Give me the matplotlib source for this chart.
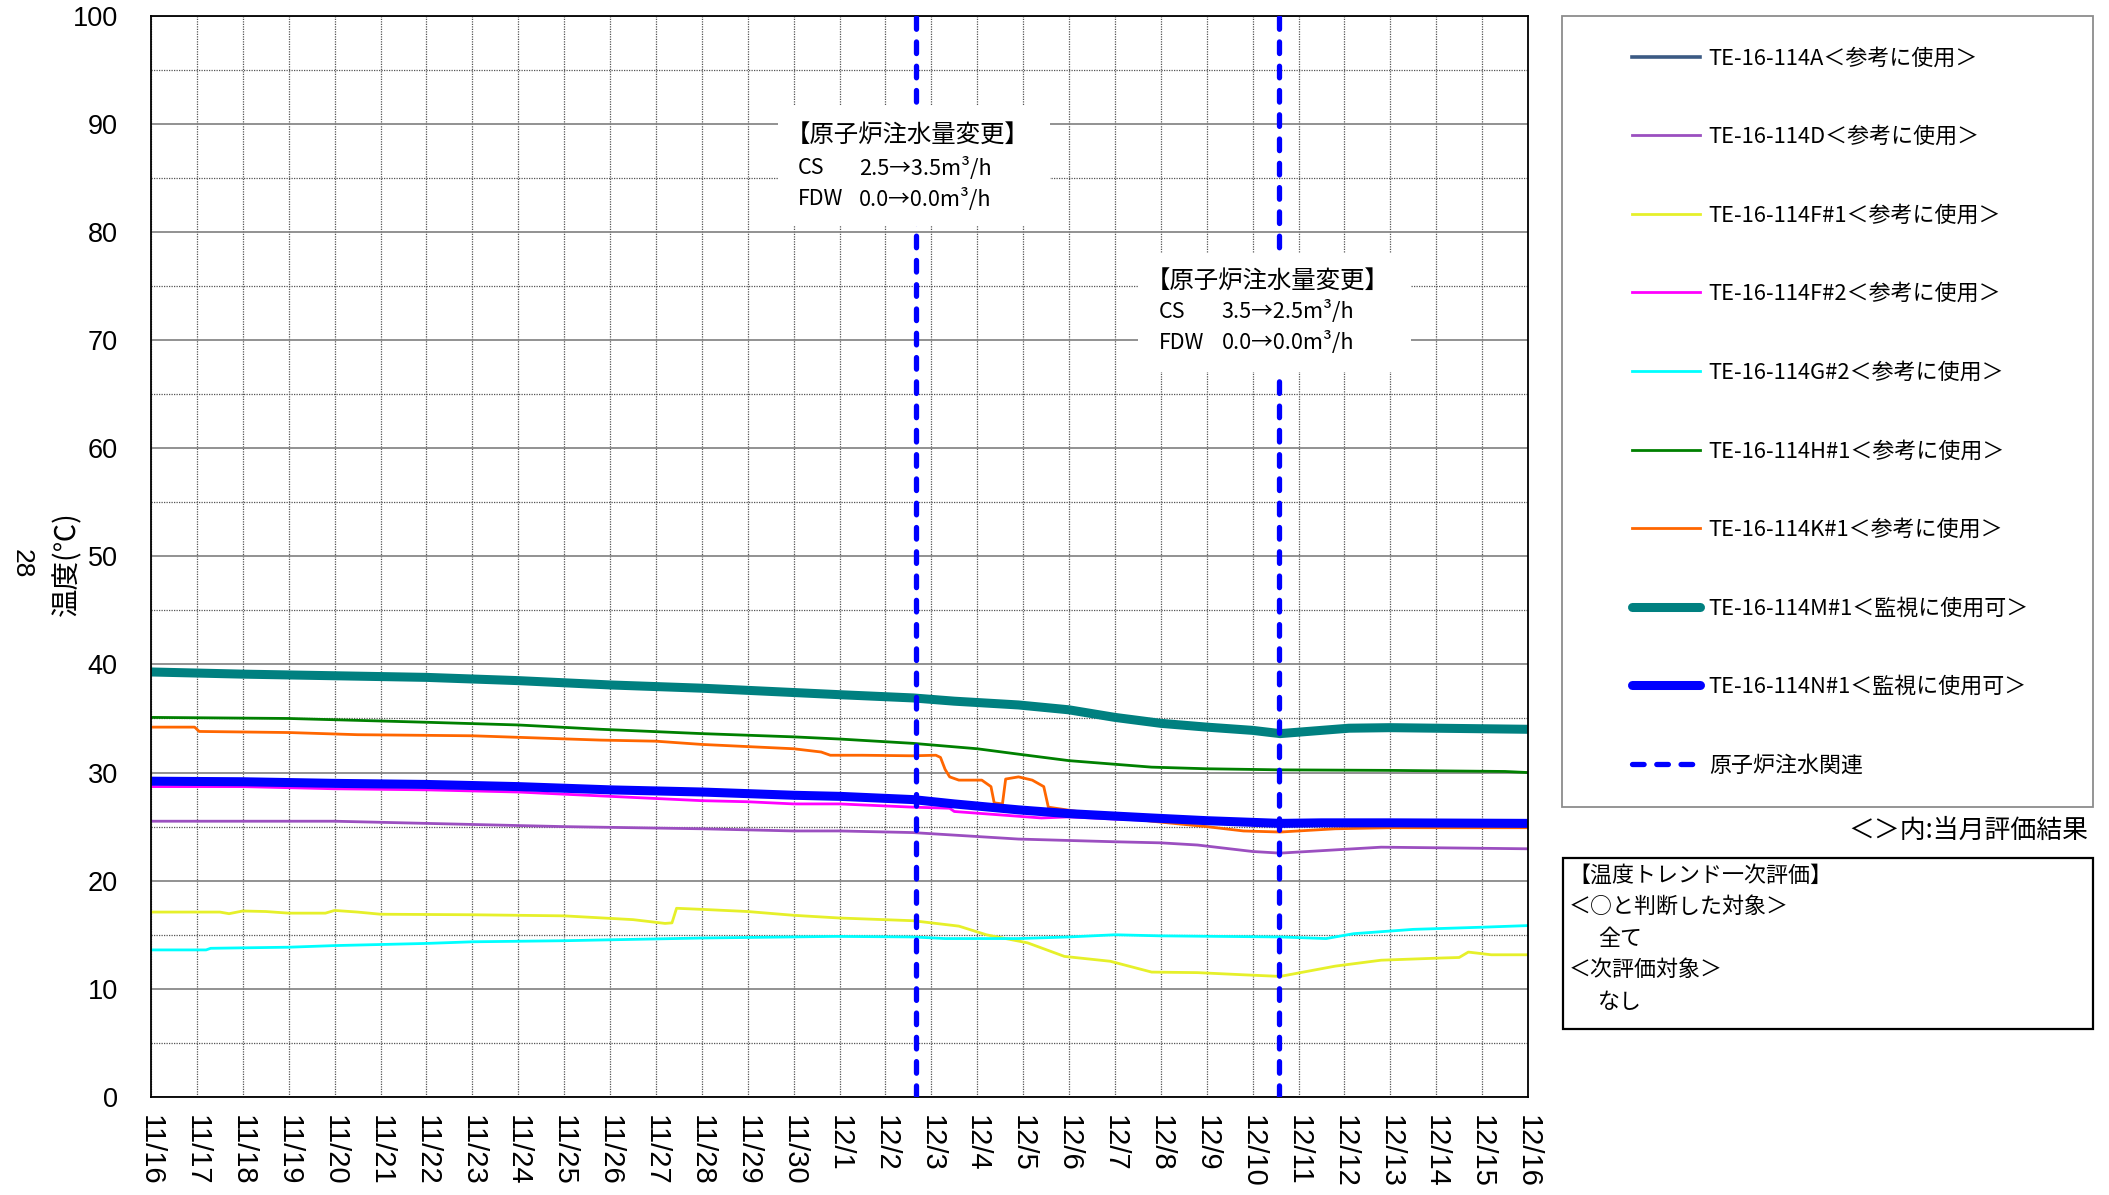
import matplotlib
matplotlib.use("Agg")
import matplotlib.pyplot as plt
from matplotlib.patches import Rectangle

plt.rcParams['font.family'] = ['Noto Sans CJK JP', 'DejaVu Sans']

# ---------------- data ----------------
date_labels = ["11/16", "11/17", "11/18", "11/19", "11/20", "11/21", "11/22", "11/23",
               "11/24", "11/25", "11/26", "11/27", "11/28", "11/29", "11/30", "12/1",
               "12/2", "12/3", "12/4", "12/5", "12/6", "12/7", "12/8", "12/9", "12/10",
               "12/11", "12/12", "12/13", "12/14", "12/15", "12/16"]

# days elapsed since 11/16 0:00
a_day = []
a_val = []

d_day = [0, 4, 6, 9, 12, 14, 15, 16.6, 18.9, 21, 22, 22.8, 24, 24.6, 25.8, 26.8, 30]
d_val = [25.5, 25.5, 25.3, 25.0, 24.8, 24.6, 24.6, 24.45, 23.85, 23.6, 23.5, 23.3, 22.7, 22.55, 22.85, 23.1, 22.95]

f1_day = [0, 1.5, 1.7, 2.0, 2.5, 3.0, 3.8, 4.0, 4.5, 5, 7, 9, 10.5, 11.2, 11.35, 11.45, 12, 13, 14, 15,
          16.6, 17.6, 18.2, 19.1, 19.9, 20.9, 21.8, 22.8, 23.8, 24.6, 25.8, 26.8, 28.1, 28.5, 28.7, 29.2, 30]
f1_val = [17.1, 17.1, 16.95, 17.2, 17.15, 17.0, 17.0, 17.25, 17.1, 16.9, 16.85, 16.75, 16.4, 16.05, 16.1, 17.45, 17.35, 17.15, 16.8, 16.55,
          16.3, 15.8, 15.0, 14.25, 13.0, 12.55, 11.55, 11.5, 11.3, 11.15, 12.1, 12.65, 12.85, 12.9, 13.4, 13.15, 13.15]

f2_day = [0, 2, 4, 6, 8, 9.5, 11, 12, 13, 14, 15, 16.6, 17.4, 17.5, 19.4, 20, 21, 24.6, 30]
f2_val = [28.7, 28.7, 28.5, 28.4, 28.2, 27.9, 27.6, 27.4, 27.3, 27.1, 27.1, 26.8, 26.7, 26.4, 25.8, 25.9, 25.7, 25.15, 25.15]

g2_day = [0, 1.2, 1.3, 3, 4, 6, 7, 9, 12, 14.9, 16.6, 17.3, 18.9, 20, 21, 22, 24.6, 25.6, 26.2, 27.5, 29, 30]
g2_val = [13.6, 13.6, 13.75, 13.85, 14.0, 14.2, 14.35, 14.45, 14.7, 14.85, 14.8, 14.65, 14.65, 14.8, 15.0, 14.9, 14.8, 14.65, 15.1, 15.5, 15.7, 15.85]

h1_day = [0, 3, 6, 8, 9.8, 12, 14, 15, 16.6, 18, 18.9, 20, 21.8, 23, 24.6, 27, 29.5, 30]
h1_val = [35.1, 35.0, 34.65, 34.4, 34.0, 33.6, 33.3, 33.1, 32.7, 32.2, 31.7, 31.1, 30.5, 30.35, 30.25, 30.2, 30.1, 30.0]

k1_day = [0, 0.95, 1.05, 3, 4.5, 7, 9.8, 11, 12, 13, 14, 14.6, 14.8, 15.5, 16.6, 17.1, 17.2, 17.3, 17.4, 17.6,
          18.1, 18.3, 18.37, 18.55, 18.62, 18.9, 19.2, 19.45, 19.55, 20.5, 21.8, 23, 23.8, 24.6, 25, 25.8, 27, 30]
k1_val = [34.2, 34.2, 33.8, 33.7, 33.5, 33.4, 33.0, 32.9, 32.6, 32.4, 32.2, 31.9, 31.6, 31.6, 31.55, 31.6, 31.4, 30.3, 29.6, 29.3,
          29.3, 28.7, 27.2, 27.1, 29.4, 29.6, 29.3, 28.7, 26.8, 26.2, 25.5, 25.0, 24.6, 24.5, 24.6, 24.8, 24.9, 24.9]

m1_day = [0, 2, 4, 6, 8, 10, 12, 14, 15, 16.6, 17.5, 18.9, 20, 21, 22, 23, 24, 24.6, 25.2, 26.1, 27, 28, 30]
m1_val = [39.3, 39.1, 38.95, 38.8, 38.5, 38.1, 37.8, 37.4, 37.2, 36.9, 36.6, 36.25, 35.8, 35.1, 34.55, 34.2, 33.9, 33.6, 33.8, 34.1, 34.15, 34.1, 34.0]

n1_day = [0, 2, 4, 6, 8, 10, 12, 14, 15, 16.6, 17.5, 18.9, 20, 21.8, 23, 24.6, 25.5, 27, 30]
n1_val = [29.2, 29.15, 29.0, 28.9, 28.7, 28.4, 28.2, 27.9, 27.8, 27.5, 27.1, 26.55, 26.2, 25.8, 25.55, 25.3, 25.35, 25.35, 25.3]

injection_days = [16.67, 24.58]

series_labels = ["TE-16-114A＜参考に使用＞", "TE-16-114D＜参考に使用＞", "TE-16-114F#1＜参考に使用＞",
                 "TE-16-114F#2＜参考に使用＞", "TE-16-114G#2＜参考に使用＞", "TE-16-114H#1＜参考に使用＞",
                 "TE-16-114K#1＜参考に使用＞", "TE-16-114M#1＜監視に使用可＞", "TE-16-114N#1＜監視に使用可＞"]
injection_label = "原子炉注水関連"

notes = [
    (["【原子炉注水量変更】", "CS", "FDW"], ["", "2.5→3.5m³/h", "0.0→0.0m³/h"]),
    (["【原子炉注水量変更】", "CS", "FDW"], ["", "3.5→2.5m³/h", "0.0→0.0m³/h"]),
]

eval_lines = ["【温度トレンド一次評価】", "＜○と判断した対象＞", "全て", "＜次評価対象＞", "なし"]

# ---------------- figure ----------------
W, H = 2109, 1195
fig = plt.figure(figsize=(W / 100, H / 100), dpi=100)
AX_L, AX_R, AX_T, AX_B = 151, 1528, 15.5, 1097
ax = fig.add_axes([AX_L / W, 1 - AX_B / H, (AX_R - AX_L) / W, (AX_B - AX_T) / H])

ax.set_xlim(0, 30)
ax.set_ylim(0, 100)
ax.set_xticks(range(31))
ax.set_xticklabels(date_labels, rotation=270, family=['Liberation Sans', 'DejaVu Sans'], fontsize=21)
ax.set_yticks(range(0, 101, 10))
ax.set_yticklabels([str(v) for v in range(0, 101, 10)], family=['Liberation Sans', 'DejaVu Sans'], fontsize=19.5)
ax.set_yticks(range(5, 100, 10), minor=True)
ax.tick_params(axis='both', which='both', length=0)
ax.tick_params(axis='y', pad=24)
ax.tick_params(axis='x', pad=13)

ax.grid(True, axis='y', which='major', color='#7f7f7f', lw=1.2, ls='-')
ax.grid(True, axis='y', which='minor', color='#555555', lw=0.9, ls=(0, (1, 1)))
ax.grid(True, axis='x', which='major', color='#555555', lw=0.9, ls=(0, (1, 1)))
ax.set_axisbelow(True)
for s in ax.spines.values():
    s.set_color('black')
    s.set_linewidth(1.3)

thin = 2.0
la, = ax.plot(a_day, a_val, color='#3b5a84', lw=2.6, label=series_labels[0])
ld, = ax.plot(d_day, d_val, color='#9b4fc0', lw=thin, label=series_labels[1])
lf1, = ax.plot(f1_day, f1_val, color='#e6f02a', lw=thin, label=series_labels[2])
lf2, = ax.plot(f2_day, f2_val, color='#ff00ff', lw=thin, label=series_labels[3])
lg2, = ax.plot(g2_day, g2_val, color='#00ffff', lw=thin, label=series_labels[4])
lh1, = ax.plot(h1_day, h1_val, color='#008000', lw=thin, label=series_labels[5])
lk1, = ax.plot(k1_day, k1_val, color='#ff6600', lw=thin, label=series_labels[6])
lm1, = ax.plot(m1_day, m1_val, color='#008080', lw=6.5, solid_capstyle='round', label=series_labels[7])
ln1, = ax.plot(n1_day, n1_val, color='#0000ff', lw=6.5, solid_capstyle='round', label=series_labels[8])

vl = None
for d in injection_days:
    vl = ax.axvline(d, color='#0000ff', lw=3.8, dashes=(2.2, 2.4), dash_capstyle='round', zorder=5,
                    label=injection_label)

# annotation boxes
boxes = [(13.66, 80.5, 19.59 - 13.66, 91.6 - 80.5), (21.5, 67.0, 27.45 - 21.5, 78.0 - 67.0)]
text_pos = [(14.1, 15.42, [88.94, 85.87, 83.0]), (21.96, 23.32, [75.5, 72.6, 69.75])]
for (bx, by, bw, bh), (x0, x1, ys), (left, right) in zip(boxes, text_pos, notes):
    ax.add_patch(Rectangle((bx, by), bw, bh, facecolor='white', edgecolor='none', zorder=6))
    for i, (tl, tr) in enumerate(zip(left, right)):
        fs = 17.6 if i == 0 else 15.5
        xl = x0 - 0.28 if i == 0 else x0
        ax.text(xl, ys[i], tl, fontsize=fs, va='center', ha='left', zorder=7)
        if tr:
            ax.text(x1, ys[i], tr, fontsize=15.6, va='center', ha='left', zorder=7)

# y label & page number
fig.text(67 / W, 1 - 564 / H, "温度(℃)", rotation=90, fontsize=20.5, ha='center', va='center')
fig.text(22 / W, 1 - 564 / H, "28", rotation=270, fontsize=19, ha='center', va='center',
         family=['Liberation Sans', 'DejaVu Sans'])

# legend frame
fig.add_artist(Rectangle((1562 / W, 1 - 807 / H), (2093 - 1562) / W, (807 - 16) / H,
                         transform=fig.transFigure, facecolor='white', edgecolor='#8c8c8c', lw=1.3, zorder=1))
handles = [la, ld, lf1, lf2, lg2, lh1, lk1, lm1, ln1, vl]
labels = series_labels + [injection_label]
leg = fig.legend(handles, labels, loc='center left', bbox_to_anchor=(1632 / W, 1 - 412 / H),
                 frameon=False, fontsize=15.8, handlelength=3.1, handletextpad=0.4,
                 labelspacing=2.58, borderpad=0, borderaxespad=0)
leg.set_zorder(2)

fig.text(2088 / W, 1 - 830 / H, "＜＞内:当月評価結果", fontsize=18.6, ha='right', va='center')

# evaluation box
fig.add_artist(Rectangle((1563 / W, 1 - 1029 / H), (2093 - 1563) / W, (1029 - 858) / H,
                         transform=fig.transFigure, facecolor='white', edgecolor='black', lw=1.6))
eval_y = [875.6, 906.5, 938.8, 969.7, 1002]
eval_x = [1568, 1569, 1598, 1569, 1598]
for t, yy, xx in zip(eval_lines, eval_y, eval_x):
    fig.text(xx / W, 1 - yy / H, t, fontsize=15.8, ha='left', va='center')

fig.savefig("out.png", dpi=100)
